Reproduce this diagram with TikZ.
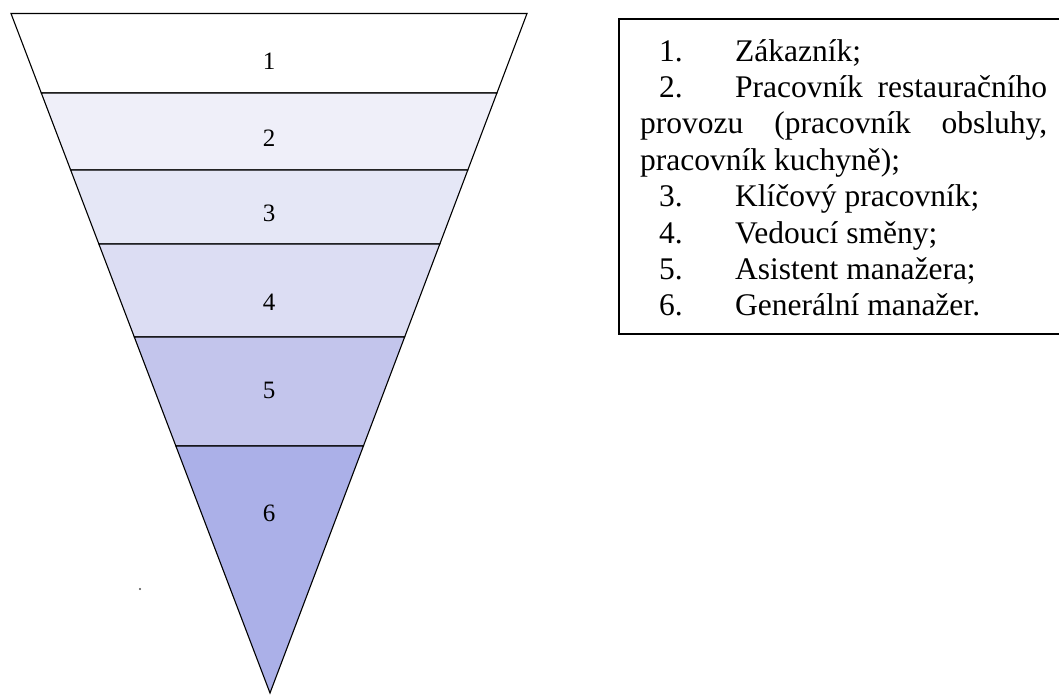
\documentclass[tikz,border=0pt]{standalone}
\usepackage{fontspec}
\setmainfont{Liberation Serif}
\usetikzlibrary{calc}
\definecolor{lev2}{RGB}{239,239,249}
\definecolor{lev3}{RGB}{229,231,246}
\definecolor{lev4}{RGB}{220,221,243}
\definecolor{lev5}{RGB}{195,197,236}
\definecolor{lev6}{RGB}{171,176,232}
\tikzstyle{band} = [draw=black, line width=1.1pt, line join=miter]
\tikzstyle{level} = [inner sep=0pt, font=\fontsize{25}{28}\selectfont]
\tikzstyle{legend} = [anchor=north west, inner sep=0pt, text width=407pt, align=justify,
font=\fontsize{31.5}{36.4}\selectfont]
\tikzstyle{frame} = [draw=black, line width=1.8pt]
\newcommand{\levelitem}[1]{\hspace*{19pt}\makebox[76pt][l]{#1}}

\begin{document}
\begin{tikzpicture}[x=1pt, y=-1pt]
\useasboundingbox (0,0) rectangle (1059,695);

\coordinate (tl) at (11,13.5);
\coordinate (tr) at (527,13.5);
\coordinate (apex) at (270,693);
\coordinate (l1) at ($(tl)!0.117!(apex)$);
\coordinate (r1) at ($(tr)!0.117!(apex)$);
\coordinate (l2) at ($(tl)!0.2303!(apex)$);
\coordinate (r2) at ($(tr)!0.2303!(apex)$);
\coordinate (l3) at ($(tl)!0.3392!(apex)$);
\coordinate (r3) at ($(tr)!0.3392!(apex)$);
\coordinate (l4) at ($(tl)!0.4761!(apex)$);
\coordinate (r4) at ($(tr)!0.4761!(apex)$);
\coordinate (l5) at ($(tl)!0.6365!(apex)$);
\coordinate (r5) at ($(tr)!0.6365!(apex)$);

\filldraw [band, fill=white] (tl) -- (tr) -- (r1) -- (l1) -- cycle;
\filldraw [band, fill=lev2] (l1) -- (r1) -- (r2) -- (l2) -- cycle;
\filldraw [band, fill=lev3] (l2) -- (r2) -- (r3) -- (l3) -- cycle;
\filldraw [band, fill=lev4] (l3) -- (r3) -- (r4) -- (l4) -- cycle;
\filldraw [band, fill=lev5] (l4) -- (r4) -- (r5) -- (l5) -- cycle;
\filldraw [band, fill=lev6] (l5) -- (r5) -- (apex) -- cycle;

\node (n1) [level] at (269,61) {1};
\node (n2) [level] at (269,138) {2};
\node (n3) [level] at (269,213) {3};
\node (n4) [level] at (269,302) {4};
\node (n5) [level] at (269,390) {5};
\node (n6) [level] at (269,513) {6};

\fill [black!70] (140,589) circle (1.1pt);

\draw [frame] (1060,19) -- (619,19) -- (619,334) -- (1060,334);
\node (list) [legend] at (640,39) {\levelitem{1.}Zákazník;\\
\levelitem{2.}Pracovník restauračního\linebreak
provozu (pracovník obsluhy,\linebreak
pracovník kuchyně);\\
\levelitem{3.}Klíčový pracovník;\\
\levelitem{4.}Vedoucí směny;\\
\levelitem{5.}Asistent manažera;\\
\levelitem{6.}Generální manažer.};

\end{tikzpicture}
\end{document}
